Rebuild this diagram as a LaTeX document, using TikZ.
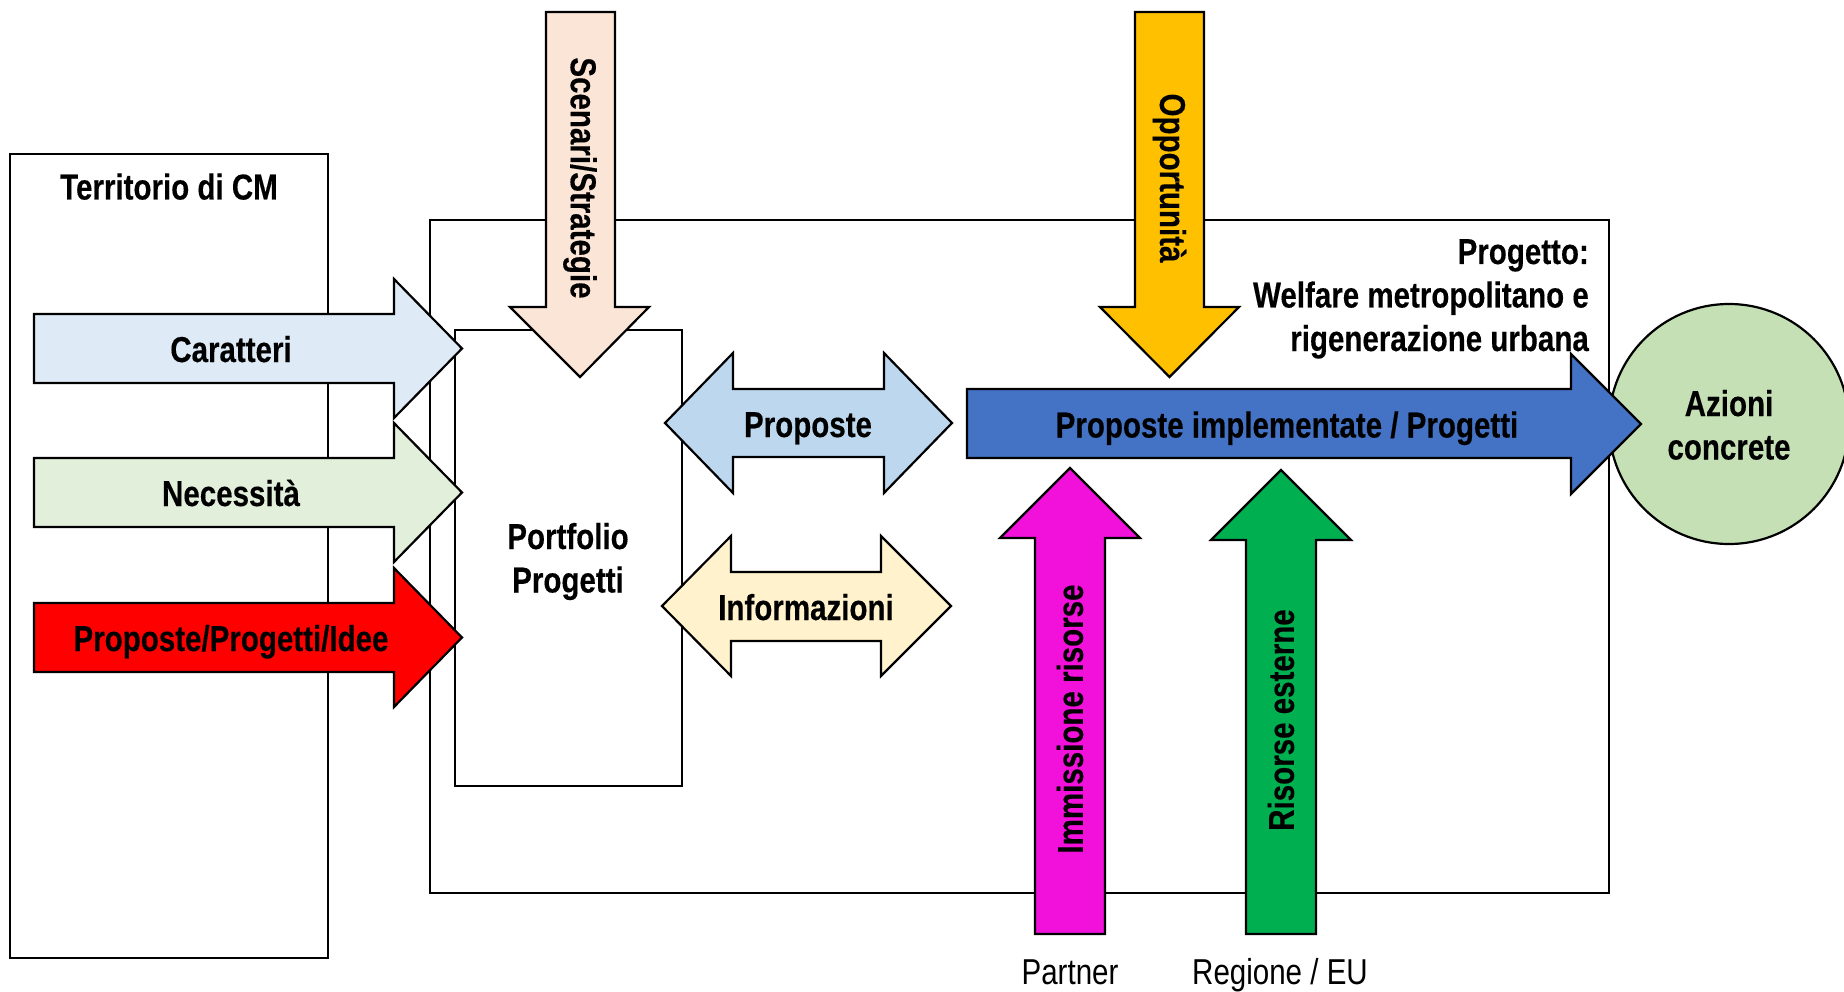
\documentclass[tikz,border=0pt]{standalone}
\usepackage{fontspec}
\newfontfamily\narrowfont{Liberation Sans}[FakeStretch=0.82, BoldFeatures={FakeBold=0.3}]
\definecolor{cCar}{HTML}{DEEBF7}
\definecolor{cNec}{HTML}{E2EFDA}
\definecolor{cIdee}{HTML}{FF0000}
\definecolor{cScen}{HTML}{FBE5D6}
\definecolor{cProp}{HTML}{BDD7EE}
\definecolor{cInfo}{HTML}{FFF2CC}
\definecolor{cOpp}{HTML}{FFC000}
\definecolor{cImpl}{HTML}{4472C4}
\definecolor{cAz}{HTML}{C5E0B4}
\definecolor{cMag}{HTML}{F211DA}
\definecolor{cGreen}{HTML}{00B050}
\tikzset{
  frame/.style={draw=black, line width=2pt},
  blockarrow/.style={draw=black, line width=2.2pt, line join=miter},
  lbl/.style={font=\narrowfont\bfseries\fontsize{36}{43.5}\selectfont, inner sep=0pt, align=center},
  src/.style={font=\narrowfont\fontsize{36}{43.5}\selectfont, inner sep=0pt, align=center},
}
\begin{document}
\begin{tikzpicture}[x=1pt,y=-1pt]
\useasboundingbox (0,0) rectangle (1844,992);
% frames
\draw[frame] (10,154) rectangle (328,958);
\draw[frame] (430,220) rectangle (1609,893);
\draw[frame] (455,330) rectangle (682,786);
% circle
\node[draw=black, line width=2.2pt, fill=cAz, circle, minimum size=240pt, inner sep=0pt] (azc) at (1729,424) {};
% left arrows
\draw[blockarrow, fill=cCar] (34,314) -- (394,314) -- (394,279) -- (462,348.5) -- (394,418) -- (394,383) -- (34,383) -- cycle;
\draw[blockarrow, fill=cNec] (34,458) -- (394,458) -- (394,423) -- (462,492.5) -- (394,562) -- (394,527) -- (34,527) -- cycle;
\draw[blockarrow, fill=cIdee] (34,603) -- (394,603) -- (394,568) -- (462,637.5) -- (394,707) -- (394,672) -- (34,672) -- cycle;
% down arrows
\draw[blockarrow, fill=cScen] (546,12) -- (615,12) -- (615,307) -- (649,307) -- (580,377) -- (510,307) -- (546,307) -- cycle;
\draw[blockarrow, fill=cOpp] (1135,12) -- (1204,12) -- (1204,307) -- (1239,307) -- (1169.5,377) -- (1100,307) -- (1135,307) -- cycle;
% double arrows
\draw[blockarrow, fill=cProp] (665,423) -- (733,353) -- (733,389) -- (884,389) -- (884,353) -- (952,423) -- (884,493) -- (884,457) -- (733,457) -- (733,493) -- cycle;
\draw[blockarrow, fill=cInfo] (662,606) -- (731,536) -- (731,572) -- (881,572) -- (881,536) -- (951,606) -- (881,676) -- (881,641) -- (731,641) -- (731,676) -- cycle;
% main arrow
\draw[blockarrow, fill=cImpl] (967,389) -- (1571,389) -- (1571,354) -- (1641,424) -- (1571,494) -- (1571,458) -- (967,458) -- cycle;
% up arrows
\draw[blockarrow, fill=cMag] (1035,934) -- (1035,538) -- (1000,538) -- (1070,468) -- (1140,538) -- (1105,538) -- (1105,934) -- cycle;
\draw[blockarrow, fill=cGreen] (1246,934) -- (1246,540) -- (1211,540) -- (1281,470) -- (1351,540) -- (1316,540) -- (1316,934) -- cycle;
% texts
\node[lbl, anchor=base] (territorio) at (169,199.5) {Territorio di CM};
\node[lbl, anchor=base] (caratteri) at (231,362) {Caratteri};
\node[lbl, anchor=base] (necessita) at (231,506) {Necessità};
\node[lbl, anchor=base] (idee) at (231,651) {Proposte/Progetti/Idee};
\node[lbl, anchor=base] (portfolio) at (568,549) {Portfolio};
\node[lbl, anchor=base] (portfolio2) at (568,592.5) {Progetti};
\node[lbl, rotate=-90] (scenari) at (580,178) {Scenari/Strategie};
\node[lbl, rotate=-90] (opp) at (1169.5,178) {Opportunità};
\node[lbl, anchor=base] (proposte) at (808,437) {Proposte};
\node[lbl, anchor=base] (informazioni) at (806,620) {Informazioni};
\node[lbl, anchor=base] (impl) at (1287,437.5) {Proposte implementate / Progetti};
\node[lbl, anchor=base east] (progetto1) at (1589,264) {Progetto:};
\node[lbl, anchor=base east] (progetto2) at (1589,307.5) {Welfare metropolitano e};
\node[lbl, anchor=base east] (progetto3) at (1589,351) {rigenerazione urbana};
\node[lbl, anchor=base] (azioni) at (1729,416) {Azioni};
\node[lbl, anchor=base] (azioni2) at (1729,459.5) {concrete};
\node[lbl, rotate=90] (immissione) at (1070,719) {Immissione risorse};
\node[lbl, rotate=90] (esterne) at (1281,720) {Risorse esterne};
\node[src, anchor=base] (partner) at (1070,984) {Partner};
\node[src, anchor=base] (regione) at (1280,984) {Regione / EU};
\end{tikzpicture}
\end{document}
